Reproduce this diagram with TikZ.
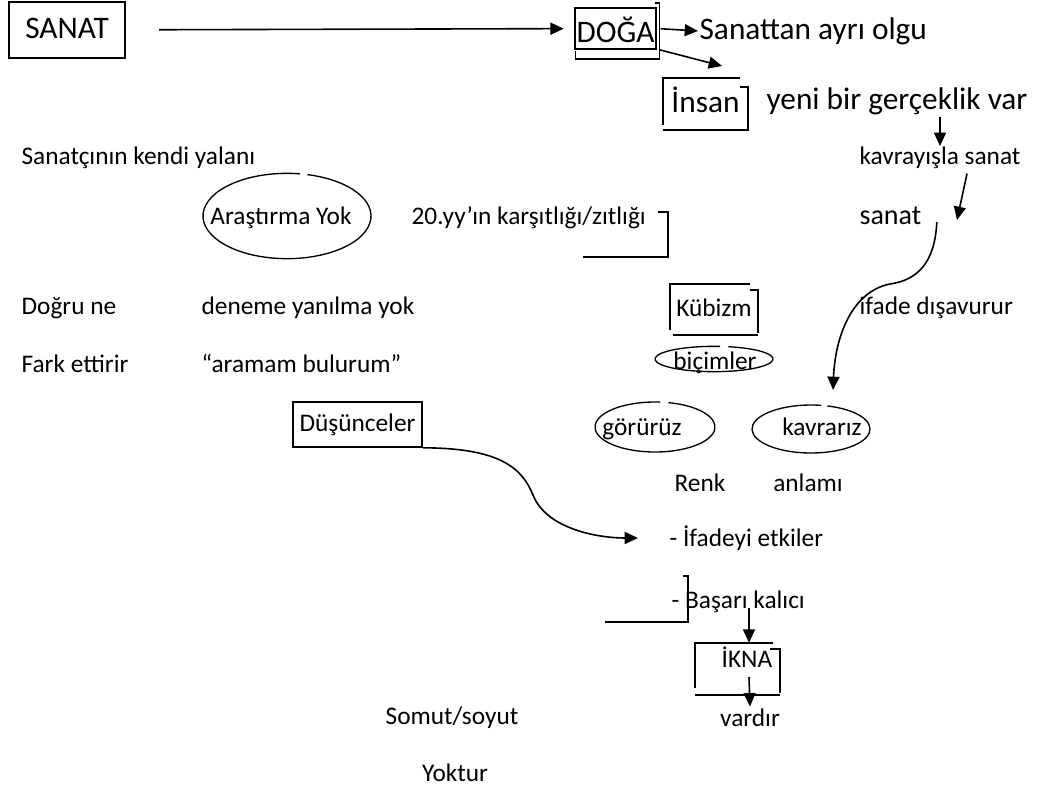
\documentclass[tikz,border=0pt]{standalone}
\usepackage{fontspec}
\setmainfont{Carlito}
\usepackage{tikz}
\usetikzlibrary{arrows.meta}
\usetikzlibrary{calc}
\usetikzlibrary{positioning}
\tikzstyle{txt}=[inner sep=1pt,font=\fontsize{19pt}{23pt}\selectfont,text height=14pt,text depth=4pt]
\tikzstyle{big}=[inner sep=1pt,font=\fontsize{23.5pt}{28pt}\selectfont,text height=17pt,text depth=5pt]
\tikzstyle{box}=[draw=black,line width=1.2pt]
\tikzstyle{edge}=[draw=black,line width=1.2pt]
\tikzstyle{oval}=[draw=black,line width=1pt]
\tikzstyle{arr}=[-{Triangle[length=10pt,width=9pt]},draw=black,line width=1.2pt]

\begin{document}
\begin{tikzpicture}[x=0.75pt,y=-0.75pt]
        \useasboundingbox (0,0) rectangle (1045,796);
        % top row
        \node[box,big,minimum width=87pt,minimum height=42pt] (sanat) at (67,30) {SANAT};
        \node[box,big,text height=24.5pt,text depth=4.25pt,minimum width=59.25pt,minimum height=30.75pt] (doga) at (615.5,28.5) {DOĞA};
        \draw[edge] ($(doga.north east)+(-2,-4)$) -- ++(5,0) |- ($(doga.south west)+(1,9)$) -- ++(0,-8);
        \node[big,anchor=west] (olgu) at (698,31) {Sanattan ayrı olgu};
        \node[big,minimum width=63.75pt,minimum height=39pt] (insan) at (705.5,104) {İnsan};
        \draw[edge] ($(insan.north east)+(-8,0)$) -- (insan.north west) -- ($(insan.south west)+(0,-5)$);
        \draw[edge] ($(insan.north east)+(-8,9)$) -- ++(8,0) -- (insan.south east) -- (insan.south west);
        \node[big,anchor=west] (yeni) at (765,101) {yeni bir gerçeklik var};
        % right column
        \node[txt,anchor=west] (kavrayis) at (858,158) {kavrayışla sanat};
        \node[txt,anchor=west,font=\fontsize{21pt}{25pt}\selectfont] (sanatb) at (858,218) {sanat};
        \node[txt,anchor=west] (ifade) at (858,308) {ifade dışavurur};
        % left columns
        \node[txt,anchor=west] (yalan) at (20,158) {Sanatçının kendi yalanı};
        \node[txt] (arastirma) at (281,218) {Araştırma Yok};
        \draw[oval] ($(arastirma.center)+(6,-2)$) ++(81:63pt and 32pt)
                    arc [start angle=81,end angle=436,x radius=63pt,y radius=32pt];
        \node[txt,anchor=west] (yy) at (410,218) {20.yy’ın karşıtlığı/zıtlığı};
        \draw[edge] (658,212) -- (668,212) -- (668,257) -- (583,257);
        \node[txt,anchor=west] (dogru) at (20,308) {Doğru ne};
        \node[txt,anchor=west] (deneme) at (200,308) {deneme yanılma yok};
        \node[txt,anchor=west] (fark) at (20,366) {Fark ettirir};
        \node[txt,anchor=west] (aramam) at (200,366) {“aramam bulurum”};
        \node[box,txt,minimum width=96.75pt,minimum height=33.75pt] (dusunce) at (357.5,424.5) {Düşünceler};
        % middle group
        \node[txt,minimum width=66pt,minimum height=38.25pt] (kubizm) at (714,309.5) {Kübizm};
        \draw[edge] ($(kubizm.north east)+(-8,0)$) -- (kubizm.north west) -- ($(kubizm.south west)+(0,-5)$);
        \draw[edge] ($(kubizm.north east)+(-8,6)$) -- ++(8,0) -- ($(kubizm.south east)+(0,-2)$);
        \draw[edge] ($(kubizm.south west)+(3,0)$) -- (kubizm.south east);
        \node[txt] (bicim) at (715,363) {biçimler};
        \draw[oval] ($(bicim.center)+(-1,-4)$) ++(84:44.25pt and 9.5pt)
                    arc [start angle=84,end angle=436,x radius=44.25pt,y radius=9.5pt];
        \node[txt] (goruruz) at (642,429) {görürüz};
        \draw[oval] ($(goruruz.center)+(13,-2)$) ++(85:45pt and 18.75pt)
                    arc [start angle=85,end angle=437,x radius=45pt,y radius=18.75pt];
        \node[txt] (kavrariz) at (822,429) {kavrarız};
        \draw[oval] ($(kavrariz.center)+(-11,0)$) ++(80:44.25pt and 18pt)
                    arc [start angle=80,end angle=434,x radius=44.25pt,y radius=18pt];
        \node[txt] (renk) at (700,485) {Renk};
        \node[txt] (anlami) at (808,485) {anlamı};
        \node[txt,anchor=west] (ifadeyi) at (668,540) {- İfadeyi etkiler};
        \node[txt,anchor=west] (basari) at (670,602) {- Başarı kalıcı};
        \draw[edge] (683,576) -- (688,576) -- (688,622) -- (605,622);
        \node[txt,text height=17pt,text depth=20pt,text width=52pt,align=right,minimum width=63.75pt] (ikna) at (737.5,669) {İKNA};
        \draw[edge] ($(ikna.north east)+(-7,0)$) -- (ikna.north west) -- ($(ikna.south west)+(0,-7)$);
        \draw[edge] ($(ikna.north east)+(-10,6)$) -- ++(10,0) -- ($(ikna.south east)+(0,-2)$);
        \draw[edge] (ikna.south west) -- (ikna.south east);
        \node[txt] (vardir) at (750,720) {vardır};
        \node[txt] (somut) at (452,718) {Somut/soyut};
        \node[txt] (yoktur) at (455,775) {Yoktur};
        % arrows
        \coordinate (insantip) at (722,66);
        \coordinate (kavtop) at (940,146);
        \coordinate (sanattip) at (957,220);
        \coordinate (kavtip) at (833,390);
        \coordinate (ifadetip) at (638,538);
        \draw[arr,shorten <=25pt,shorten >=8pt] (sanat) -- (doga);
        \draw[arr,shorten <=3pt] (doga.east) -- (olgu.west);
        \draw[arr] ($(doga.south east)+(3,0)$) -- (insantip);
        \draw[arr] (yeni.south -| kavtop) -- (kavtop);
        \draw[arr] ($(kavrayis.south)+(27,2)$) -- (sanattip);
        \draw[arr] ($(sanatb.east)+(14,4)$) .. controls (935,262) and (918,280) .. (890,284)
                   .. controls (850,292) and (835,340) .. (kavtip);
        \draw[arr] (dusunce.south east) .. controls (500,448) and (522,468) .. (533,495)
                   .. controls (547,530) and (600,538) .. (ifadetip);
        \draw[arr] ($(ikna.north)+(11.5,-35)$) -- ($(ikna.north)+(11.5,0)$);
        \draw[arr] ($(ikna.center)+(11.5,8)$) -- (vardir.north);
\end{tikzpicture}
\end{document}
